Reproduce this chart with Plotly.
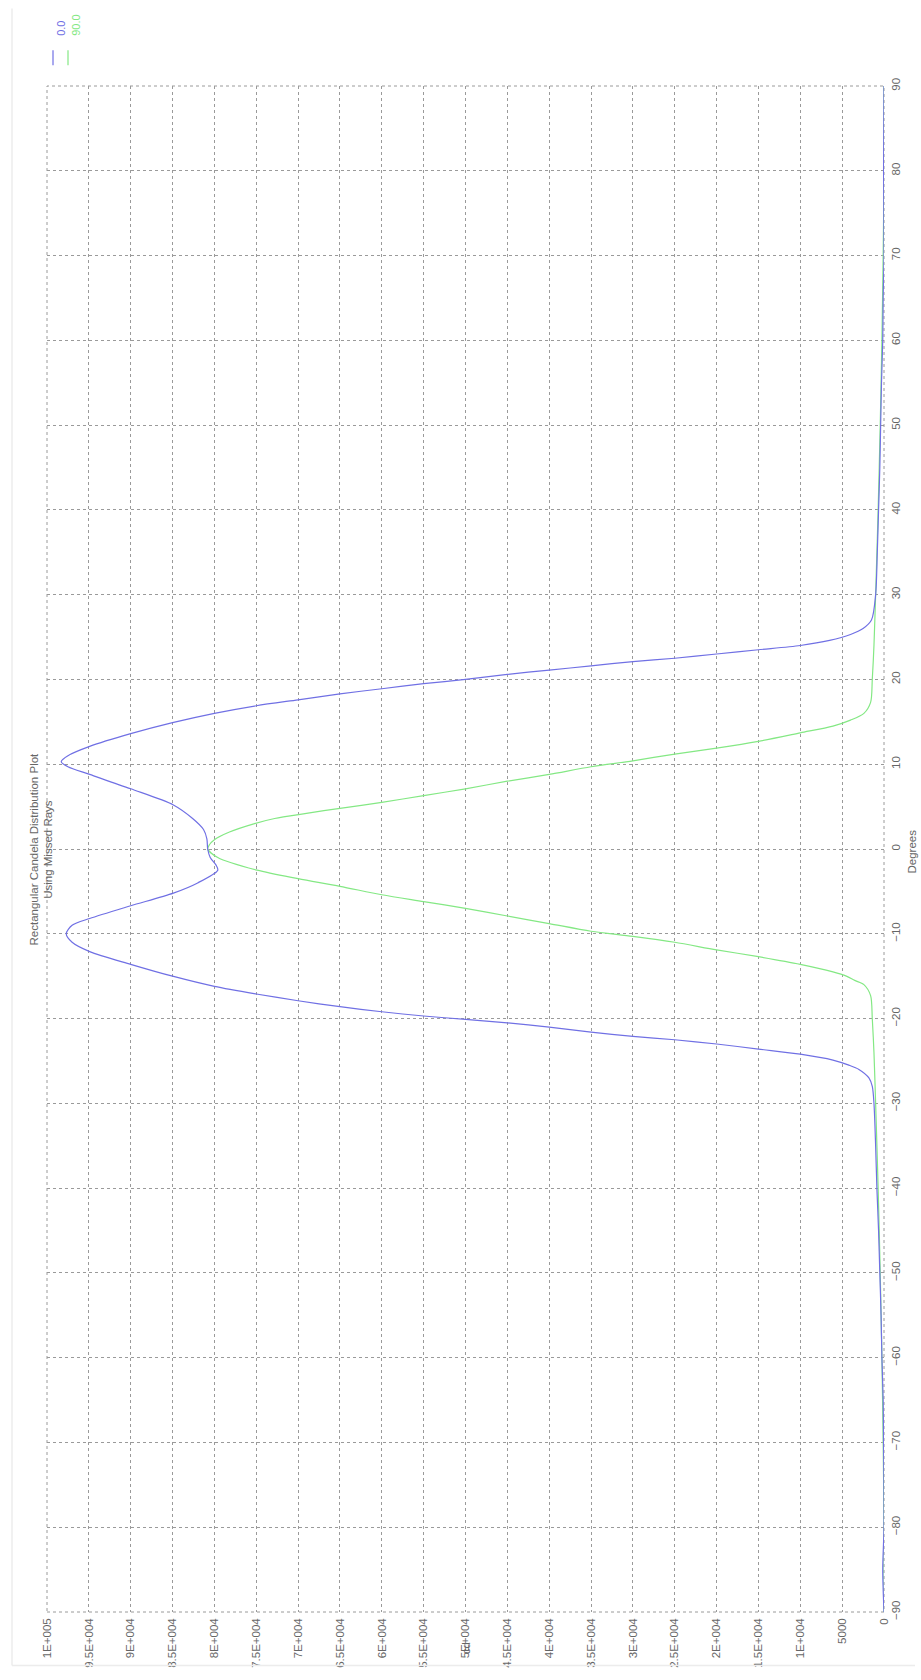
import plotly.graph_objects as go

# ---- data ----
deg_0 = [-90, -85, -80, -70, -65, -60, -55, -50, -45, -40, -35, -30, -28, -27, -26, -25.5,
         -24.9, -24.2, -23.6, -23.0, -22.5, -22.1, -21.6, -21.0, -20.5, -20.1, -19.7, -19.2, -18.6,
         -17.9, -17.1, -16.2, -15.0, -13.6, -12.1, -11.0, -10.0, -9.0, -8.2, -6.7, -5.2, -4.0,
         -2.5, -1.9, -1.0, 0, 1.2, 2.3, 3.6, 5.2, 7.1, 8.8, 9.7, 10.3, 11.0, 12.1, 13.6, 14.9,
         16.0, 16.9, 17.6, 18.3, 18.9, 19.5, 20.0, 20.6, 21.1, 21.6, 22.1, 22.5, 23.0, 23.5, 24.0,
         24.6, 25.3, 26.0, 27.0, 30, 35, 40, 45, 50, 55, 60, 65, 70, 80, 90]
cd_0 = [0, 150, 0, 50, 100, 250, 350, 500, 650, 850, 1000, 1200, 1400, 1800, 3000, 4200,
        6100, 10000, 15000, 20000, 25000, 30000, 35000, 40000, 45000, 50000, 55000, 60000, 65000,
        70000, 75000, 80000, 85000, 90000, 94900, 97000, 97700, 97000, 94900, 90000, 84900, 82000,
        79600, 79800, 80500, 80800, 80900, 81300, 82600, 84900, 90000, 94900, 97500, 98300, 97500, 94900, 90000, 85000,
        80000, 75000, 70000, 65000, 60000, 55000, 50000, 45000, 40000, 35000, 30000, 25000, 20000, 15000, 10000,
        6500, 4000, 2500, 1500, 1000, 800, 650, 500, 400, 300, 150, 100, 0, 50, 0]

deg_90 = [-90, -80, -70, -60, -50, -40, -30, -24, -20, -17.3, -16, -15.5, -15, -14.5, -13.6, -12.7,
          -11.9, -11.0, -10.3, -9.7, -8.8, -7.9, -7.0, -6.2, -5.4, -4.4, -3.5, -2.5, -1.0, 0, 0.5,
          1.1, 2.0, 3.0, 3.6, 4.2, 4.8, 5.5, 6.3, 7.1, 8.0, 8.8, 9.7, 10.4, 11.2, 11.9, 12.7, 13.7,
          14.5, 15.2, 16, 17.3, 20, 24, 30, 40, 50, 60, 70, 80, 90]
cd_90 = [0, 0, 100, 250, 450, 700, 1000, 1200, 1400, 1600, 2400, 3500, 4500, 6100, 10000, 15000,
         20000, 25000, 30000, 35000, 40000, 45000, 50000, 55000, 60000, 65000, 70000, 74900, 79600, 80800, 80600,
         80000, 78200, 75200, 72800, 69000, 65000, 60000, 55000, 50000, 45000, 40000, 35000, 30000, 25000, 20000, 15000, 10000,
         6100, 4000, 2400, 1600, 1400, 1200, 1000, 700, 450, 250, 100, 0, 0]

x_tickvals = [i * 5000 for i in range(21)]
x_ticktext = ["0", "5000", "1E+004", "1.5E+004", "2E+004", "2.5E+004", "3E+004", "3.5E+004",
              "4E+004", "4.5E+004", "5E+004", "5.5E+004", "6E+004", "6.5E+004", "7E+004",
              "7.5E+004", "8E+004", "8.5E+004", "9E+004", "9.5E+004", "1E+005"]
y_tickvals = list(range(-90, 91, 10))

BLUE = "#7070e4"
GREEN = "#84e884"
FONT = "Liberation Sans, Arial, sans-serif"
TXT = "#666666"

fig = go.Figure()
fig.add_trace(go.Scatter(x=cd_90, y=deg_90, mode="lines", name="90.0",
                         line=dict(color=GREEN, width=1.2, shape="spline", smoothing=0.8)))
fig.add_trace(go.Scatter(x=cd_0, y=deg_0, mode="lines", name="0.0",
                         line=dict(color=BLUE, width=1.2, shape="spline", smoothing=0.8)))

W, H = 921, 1680
PL, PR, PT, PB = 47, 884, 86, 1623          # plot area in page pixels
L, R, T, B = PL, W - PR, PT, H - PB
pw, ph = PR - PL, PB - PT

def px(xp):
    return (xp - PL) / pw

def py(yp):
    return (PB - yp) / ph

fig.update_layout(
    width=W, height=H,
    margin=dict(l=L, r=R, t=T, b=B),
    paper_bgcolor="white", plot_bgcolor="white",
    showlegend=False,
    font=dict(family=FONT, size=11, color=TXT),
    xaxis=dict(range=[100000, 0], tickvals=x_tickvals, ticktext=x_ticktext, tickangle=-90,
               showgrid=True, gridcolor="#9a9a9a", griddash="dot", gridwidth=1,
               zeroline=False, showline=False, ticks="", ticklabelstandoff=3,
               tickfont=dict(size=11.5, color=TXT)),
    yaxis=dict(range=[-90, 90], tickvals=y_tickvals, side="right", tickangle=-90,
               showgrid=True, gridcolor="#9a9a9a", griddash="dot", gridwidth=1,
               zeroline=False, showline=False, ticks="", ticklabelstandoff=3,
               tickfont=dict(size=11.5, color=TXT)),
)

# plot border (dotted)
fig.add_shape(type="rect", xref="paper", yref="paper", x0=0, y0=0, x1=1, y1=1,
              line=dict(color="#9a9a9a", width=1, dash="dot"), layer="below")
# faint page frame
fig.add_shape(type="line", xref="paper", yref="paper", x0=px(12), x1=px(12), y0=py(1677), y1=py(8),
              line=dict(color="#ececec", width=1.5))
fig.add_shape(type="line", xref="paper", yref="paper", x0=px(12), x1=px(915), y0=py(1677), y1=py(1677),
              line=dict(color="#ececec", width=1.5))

# title (rotated)
fig.add_annotation(text="Rectangular Candela Distribution Plot<br>Using Missed Rays",
                   xref="paper", yref="paper", x=px(25), y=0.5, textangle=-90,
                   showarrow=False, font=dict(size=11.5, color=TXT), align="center")
# degree axis title
fig.add_annotation(text="Degrees", xref="paper", yref="paper", x=px(912), y=py(857), textangle=-90,
                   xanchor="center", yanchor="middle",
                   showarrow=False, font=dict(size=11.5, color=TXT))
# value axis title
fig.add_annotation(text="cd", xref="paper", yref="paper", x=0.5, y=py(1668), textangle=-90,
                   showarrow=False, font=dict(size=11.5, color=TXT))

# legend (rotated)
for name, col, xc in [("0.0", BLUE, 53), ("90.0", GREEN, 68)]:
    fig.add_annotation(text=name, xref="paper", yref="paper", x=px(xc), y=py(38),
                       yanchor="bottom", textangle=-90, showarrow=False,
                       font=dict(size=11, color=col))
    fig.add_shape(type="line", xref="paper", yref="paper", x0=px(xc), x1=px(xc),
                  y0=py(50), y1=py(65), line=dict(color=col, width=1.2))

fig.write_html("out.html", config={"displayModeBar": False},
               post_script="document.body.style.margin='0px';")
